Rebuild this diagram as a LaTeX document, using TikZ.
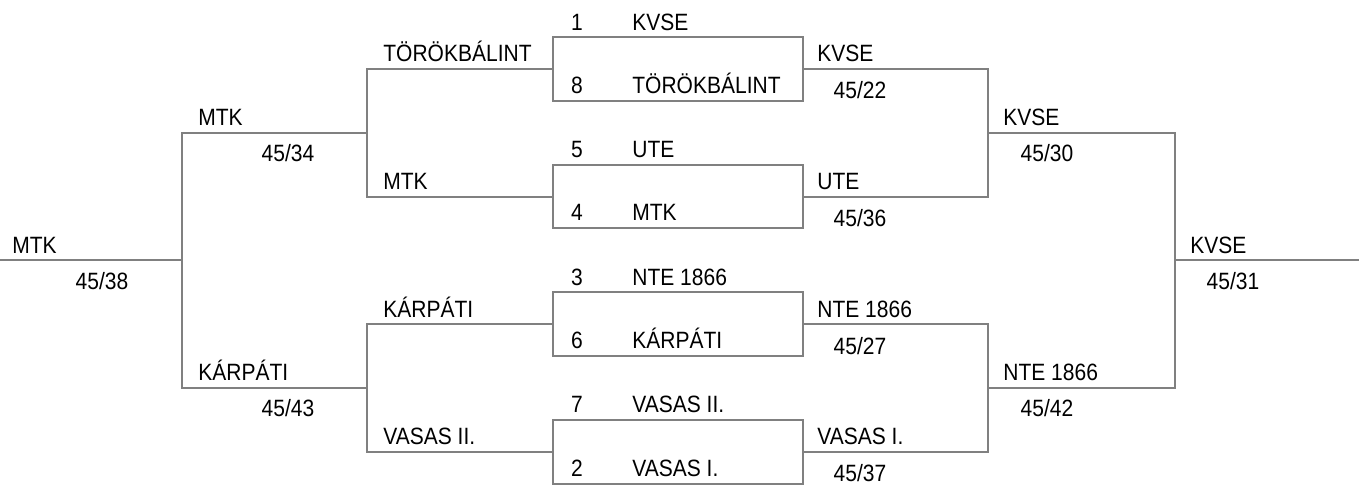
\documentclass[tikz,border=0pt]{standalone}
\usepackage{fontspec}
\setmainfont{Liberation Sans}[FakeStretch=0.89]
\definecolor{bracketgray}{HTML}{808080}
\begin{document}
\begin{tikzpicture}[x=0.5pt,y=-0.5pt,
		line/.style={draw=bracketgray,line width=1pt},
		team/.style={anchor=base west,inner sep=0pt,font=\fontsize{11.8}{14}\selectfont},
		score/.style={anchor=base,inner sep=0pt,font=\fontsize{11.8}{14}\selectfont}]
			\useasboundingbox (0,0) rectangle (1359,488);
			% first round boxes
			\foreach \i/\a/\na/\b/\nb in {0/1/KVSE/8/TÖRÖKBÁLINT,1/5/UTE/4/MTK,2/3/NTE 1866/6/KÁRPÁTI,3/7/VASAS II./2/VASAS I.}{
				\pgfmathsetmacro\boxtop{37+127.6*\i}
				\draw[line] (553,\boxtop) rectangle (803,\boxtop+63.8);
				\coordinate (L\i) at (553,\boxtop+31.9);
				\coordinate (R\i) at (803,\boxtop+31.9);
				\node[score] (na\i) at (577,\boxtop-7) {\a};
				\node[team] (ta\i) at (632,\boxtop-7) {\na};
				\node[score] (nb\i) at (577,\boxtop+56.3) {\b};
				\node[team] (tb\i) at (632,\boxtop+56.3) {\nb};
			}
			\coordinate (QL0) at (367,132.7);
			\coordinate (QL1) at (367,387.9);
			\coordinate (QR0) at (988,132.7);
			\coordinate (QR1) at (988,387.9);
			\coordinate (SL) at (182,260.3);
			\coordinate (SR) at (1175,260.3);
			\coordinate (WL) at (0,260.3);
			\coordinate (WR) at (1359,260.3);
			\draw[line] (L0) -| (QL0) |- (L1);
			\draw[line] (L2) -| (QL1) |- (L3);
			\draw[line] (R0) -| (QR0) |- (R1);
			\draw[line] (R2) -| (QR1) |- (R3);
			\draw[line] (QL0) -| (SL) |- (QL1);
			\draw[line] (QR0) -| (SR) |- (QR1);
			\draw[line] (SL) -- (WL);
			\draw[line] (SR) -- (WR);
			% winners and scores
			\foreach \i/\n in {0/TÖRÖKBÁLINT,1/MTK,2/KÁRPÁTI,3/VASAS II.}{
				\node[team] (ql\i) at ([shift={(16,-7)}]L\i -| QL0) {\n};
			}
			\foreach \i/\n/\s in {0/KVSE/{45/22},1/UTE/{45/36},2/NTE 1866/{45/27},3/VASAS I./{45/37}}{
				\node[team] (qr\i) at ([shift={(14,-7)}]R\i) {\n};
				\node[score] (qs\i) at ([shift={(57,30)}]R\i) {\s};
			}
			\node[team] (sl0) at ([shift={(16,-7)}]QL0 -| SL) {MTK};
			\node[score] (ss0) at ([shift={(106,29)}]QL0 -| SL) {45/34};
			\node[team] (sl1) at ([shift={(16,-7)}]QL1 -| SL) {KÁRPÁTI};
			\node[score] (ss1) at ([shift={(106,29)}]QL1 -| SL) {45/43};
			\node[team] (sr0) at ([shift={(15,-7)}]QR0) {KVSE};
			\node[score] (st0) at ([shift={(59,29)}]QR0) {45/30};
			\node[team] (sr1) at ([shift={(15,-7)}]QR1) {NTE 1866};
			\node[score] (st1) at ([shift={(59,29)}]QR1) {45/42};
			\node[team] (wl) at ([shift={(12,-7)}]WL) {MTK};
			\node[score] (ws) at ([shift={(102,29)}]WL) {45/38};
			\node[team] (wr) at ([shift={(15,-7)}]SR) {KVSE};
			\node[score] (wt) at ([shift={(58,29)}]SR) {45/31};
		\end{tikzpicture}
\end{document}
